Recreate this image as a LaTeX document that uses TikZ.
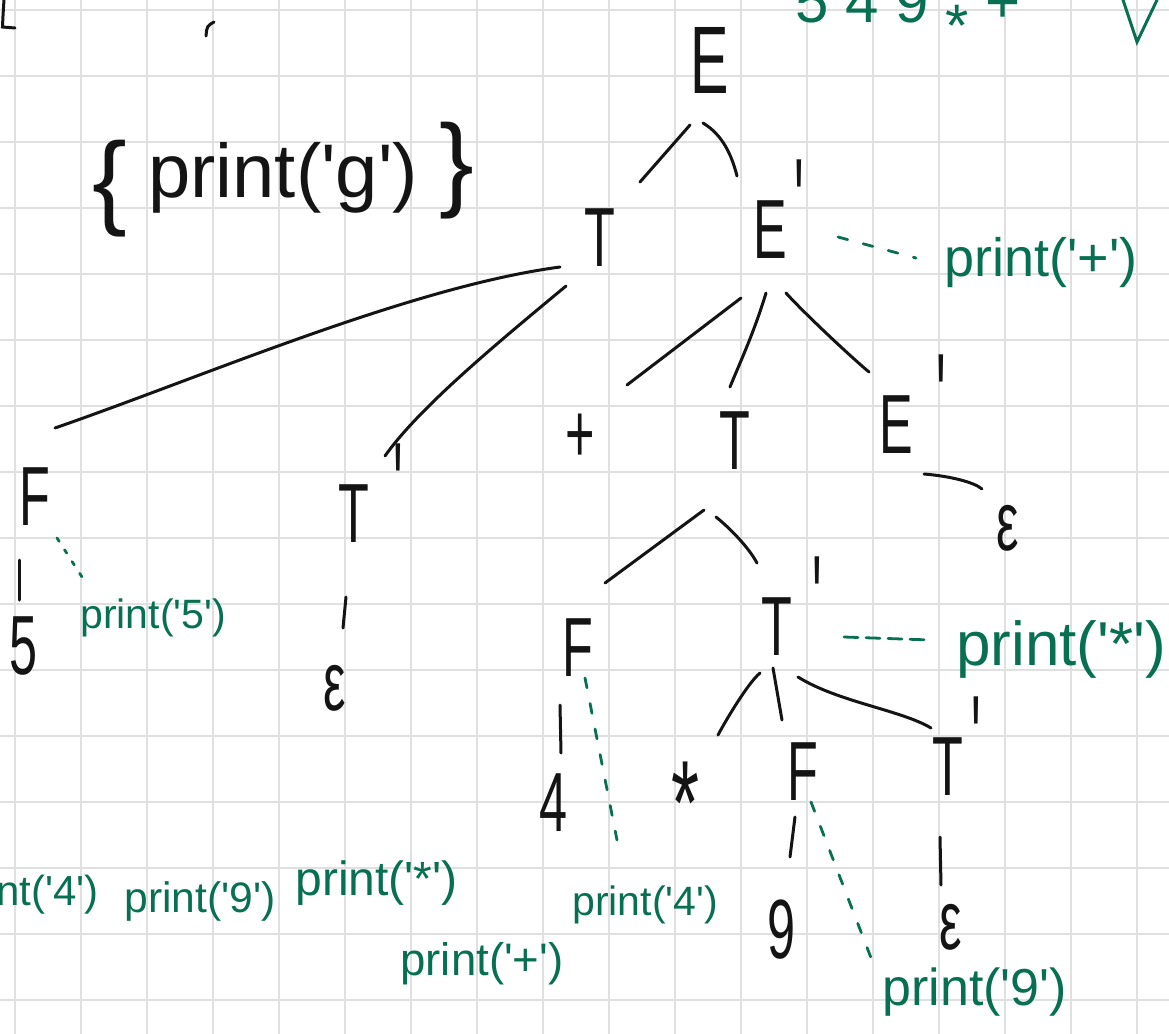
\documentclass[tikz,border=0pt]{standalone}
\usepackage{graphicx}
\usepackage{fontspec}
\setmainfont{Liberation Sans}
\newfontfamily\hand[FakeStretch=0.6]{Liberation Sans}
\usetikzlibrary{calc}

\definecolor{pen}{RGB}{20,20,20}
\definecolor{ink}{RGB}{8,112,82}
\definecolor{gridline}{RGB}{224,224,224}

\newcommand\tick[1][8pt]{\rlap{\smash{\kern#1\raisebox{0.15em}{\scalebox{1}[1.5]{\textquotesingle}}}}}
\newcommand\printcall[1]{print(\textquotesingle#1\textquotesingle)}

\tikzset{
  sym/.style={inner sep=0pt, text=pen, font=\hand\fontsize{42}{42}\selectfont},
  act/.style={inner sep=0pt, anchor=base west, text=ink, font=\fontsize{#1}{#1}\selectfont},
  branch/.style={draw=pen, line width=1.5pt, line cap=round},
  hint/.style={draw=ink, line width=1.4pt, line cap=round, dash pattern=on 5pt off 8pt},
}

\begin{document}
\begin{tikzpicture}[x=0.5pt, y=-0.5pt]
    \useasboundingbox (0,0) rectangle (1169,1034);
    \clip (0,0) rectangle (1169,1034);
    \fill[white] (0,0) rectangle (1169,1034);
    % squared paper
    \foreach \gx in {0,...,17}
        \draw[gridline, line width=1pt] ({14.5+66*\gx},0) -- ({14.5+66*\gx},1034);
    \foreach \gy in {0,...,15}
        \draw[gridline, line width=1pt] (0,{10+66*\gy}) -- (1169,{10+66*\gy});

    % left-over marks at the top
    \draw[branch] (4,0) .. controls (3,15) .. (2.5,27) -- (15,28);
    \draw[branch] (214,22) .. controls (207,26) .. (206,36);
    \node[act=30] (postfix) at (795,22) {5 4 9 \raisebox{-0.4em}{*} +};
    \draw[ink, line width=1.5pt, line cap=round] (1123,0) -- (1137,42) -- (1157,0);

    \node[act=38, text=pen] (gact) at (92,197) {\raisebox{-9pt}{\fontsize{52}{52}\selectfont\{} \printcall{g} {\fontsize{52}{52}\selectfont\}}};

    % parse tree
    \node[sym, font=\hand\fontsize{48}{48}\selectfont] (E) at (710,60) {E};
    \node[sym] (T) at (600,238) {T};
    \node[sym] (Ep) at (770,230) {E\tick[4pt]};
    \node[sym] (F1) at (35,497) {F};
    \node[sym] (Tp1) at (354,514) {T\tick[12pt]};
    \node[sym] (n5) at (24,646) {5};
    \node[sym] (eps1) at (335,688) {ε};
    \node[sym] (plus) at (580,438) {+};
    \node[sym] (T2) at (735,441) {T};
    \node[sym] (Ep2) at (896,425) {E\tick[12pt]};
    \node[sym] (eps2) at (1008,528) {ε};
    \node[sym] (F2) at (578,648) {F};
    \node[sym] (Tp3) at (777,627) {T\tick[10pt]};
    \node[sym] (n4) at (554,803) {4};
    \node[sym, font=\hand\fontsize{60}{60}\selectfont] (star) at (686,803) {*};
    \node[sym] (F3) at (803,772) {F};
    \node[sym] (Tp4) at (948,767) {T\tick[4pt]};
    \node[sym] (n9) at (782,930) {9};
    \node[sym] (eps3) at (951,927) {ε};

    \draw[branch] ([shift={(-20,65)}]E.center) -- ([shift={(40,-56)}]T.center);
    \draw[branch] ([shift={(-7,63)}]E.center) .. controls +(20,12) and +(-5,-20) .. ([shift={(-33,-54)}]Ep.center);
    \draw[branch] ([shift={(-40,29)}]T.center) .. controls +(-150,20) and +(150,-52) .. ([shift={(20,-69)}]F1.center);
    \draw[branch] ([shift={(-34,48)}]T.center) .. controls +(-60,50) and +(35,-50) .. ([shift={(31,-58)}]Tp1.center);
    \draw[branch] ([shift={(-16,63)}]F1.center) -- ([shift={(-5,-46)}]n5.center);
    \draw[branch] ([shift={(-8,83)}]Tp1.center) -- ([shift={(8,-60)}]eps1.center);
    \draw[branch] ([shift={(-29,68)}]Ep.center) -- ([shift={(47,-53)}]plus.center);
    \draw[branch] ([shift={(-4,63)}]Ep.center) .. controls +(-12,40) and +(8,-20) .. ([shift={(-5,-54)}]T2.center);
    \draw[branch] ([shift={(16,63)}]Ep.center) .. controls +(18,20) and +(-18,-15) .. ([shift={(-27,-53)}]Ep2.center);
    \draw[branch] ([shift={(28,49)}]Ep2.center) .. controls +(25,2) and +(-8,-7) .. ([shift={(-26,-39)}]eps2.center);
    \draw[branch] ([shift={(-31,69)}]T2.center) -- ([shift={(27,-65)}]F2.center);
    \draw[branch] ([shift={(-19,76)}]T2.center) .. controls +(15,12) and +(-8,-15) .. ([shift={(-20,-64)}]Tp3.center);
    \draw[branch] ([shift={(-18,57)}]F2.center) -- ([shift={(7,-50)}]n4.center);
    \draw[branch] ([shift={(-17,46)}]Tp3.center) .. controls +(-12,10) and +(8,-15) .. ([shift={(32,-68)}]star.center);
    \draw[branch] ([shift={(-4,41)}]Tp3.center) -- ([shift={(-21,-52)}]F3.center);
    \draw[branch] ([shift={(21,50)}]Tp3.center) .. controls +(40,25) and +(-30,-18) .. ([shift={(-17,-39)}]Tp4.center);
    \draw[branch] ([shift={(-8,45)}]F3.center) -- ([shift={(8,-73)}]n9.center);
    \draw[branch] ([shift={(-8,70)}]Tp4.center) -- ([shift={(-10,-42)}]eps3.center);

    % semantic actions
    \node[act=27] (prplus) at (944,276) {\printcall{+}};
    \node[act=31] (prstar) at (956,665) {\printcall{*}};
    \node[act=20.5] (prfive) at (80,628) {\printcall{5}};
    \node[act=20.5] (prfour) at (572,915) {\printcall{4}};
    \node[act=26] (prnine) at (882,1005) {\printcall{9}};
    \node[act=21] (lfour) at (-51,905) {\printcall{4}};
    \node[act=21.3] (lnine) at (124,912) {\printcall{9}};
    \node[act=24] (lstar) at (295,895) {\printcall{*}};
    \node[act=22.8] (lplus) at (400,975) {\printcall{+}};

    \draw[hint] ([shift={(68,7)}]Ep.center) -- ([shift={(-28,-18)}]prplus.base west);
    \draw[hint, dash pattern=on 2pt off 5pt] ([shift={(22,41)}]F1.center) -- ([shift={(2,-51)}]prfive.base west);
    \draw[hint] ([shift={(7,30)}]F2.center) -- ([shift={(45,-75)}]prfour.base west);
    \draw[hint] ([shift={(8,30)}]F3.center) -- ([shift={(-9,-42)}]prnine.base west);
    \draw[hint, dash pattern=on 7pt off 4pt] ([shift={(67,10)}]Tp3.center) -- ([shift={(-25,-25)}]prstar.base west);
\end{tikzpicture}
\end{document}
